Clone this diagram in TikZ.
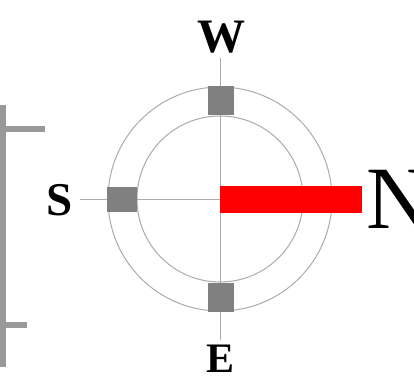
\documentclass[tikz,border=0pt]{standalone}
\usepackage{fontspec}
\setmainfont{Liberation Serif}
\begin{document}
\begin{tikzpicture}[x=1pt,y=-1pt,
  thinline/.style={draw=black!33,line width=1pt},
  bracket/.style={fill=black!40},
  marker/.style={fill=black!50,draw=none},
  lbl/.style={inner sep=0pt,anchor=base,font=\bfseries}]
\useasboundingbox (0,0) rectangle (414,381);
% left bracket
\fill[bracket] (0,105) rectangle (6,367);
\fill[bracket] (0,126) rectangle (45,132);
\fill[bracket] (0,322) rectangle (27,328);
% crosshair lines
\coordinate (c) at (220,199);
\coordinate (top) at (220,58);
\coordinate (bot) at (220,340);
\coordinate (lft) at (80,199);
\draw[thinline] (top) -- (bot);
\draw[thinline] (lft) -- (c);
% circles
\draw[thinline] (c) circle[radius=112];
\draw[thinline] (c) circle[radius=83];
% markers
\fill[marker] (208,86) rectangle (234,115);
\fill[marker] (107,187) rectangle (137,212);
\fill[marker] (208,283) rectangle (234,312);
% red needle
\fill[red] (220,186) rectangle (362,213);
% labels
\node[lbl,font=\bfseries\fontsize{48}{48}\selectfont] (W) at (221,52) {W};
\node[lbl,font=\bfseries\fontsize{47}{47}\selectfont,anchor=base west] (S) at (46,215) {S};
\node[lbl,font=\bfseries\fontsize{42}{42}\selectfont] (E) at (220.5,372) {E};
\node[inner sep=0pt,anchor=base west,font=\fontsize{89}{89}\selectfont] (N) at (366,228) {N};
\end{tikzpicture}
\end{document}
